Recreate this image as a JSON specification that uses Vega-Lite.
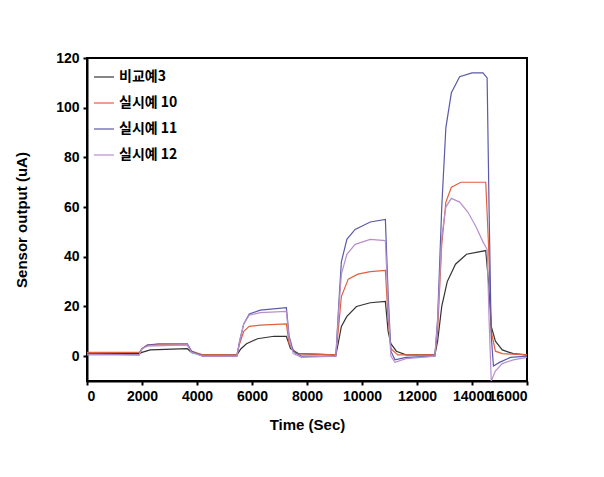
{
  "$schema": "https://vega.github.io/schema/vega-lite/v6.json",
  "width": 440,
  "height": 323,
  "autosize": "none",
  "padding": {"left": 87, "top": 58, "right": 77, "bottom": 96},
  "background": "white",
  "data": {
    "values": [
      {"s": "비교예3", "t": 0, "v": 1},
      {"s": "비교예3", "t": 1900, "v": 1},
      {"s": "비교예3", "t": 2000, "v": 1.5},
      {"s": "비교예3", "t": 2300, "v": 2.5},
      {"s": "비교예3", "t": 3650, "v": 3},
      {"s": "비교예3", "t": 3800, "v": 1.5},
      {"s": "비교예3", "t": 4200, "v": 0.5},
      {"s": "비교예3", "t": 5450, "v": 0.5},
      {"s": "비교예3", "t": 5600, "v": 3},
      {"s": "비교예3", "t": 5800, "v": 5},
      {"s": "비교예3", "t": 6200, "v": 7},
      {"s": "비교예3", "t": 6800, "v": 8},
      {"s": "비교예3", "t": 7250, "v": 8},
      {"s": "비교예3", "t": 7400, "v": 3},
      {"s": "비교예3", "t": 7700, "v": 1},
      {"s": "비교예3", "t": 9050, "v": 0.5},
      {"s": "비교예3", "t": 9150, "v": 6},
      {"s": "비교예3", "t": 9250, "v": 12},
      {"s": "비교예3", "t": 9450, "v": 16},
      {"s": "비교예3", "t": 9800, "v": 20},
      {"s": "비교예3", "t": 10300, "v": 21.5},
      {"s": "비교예3", "t": 10850, "v": 22},
      {"s": "비교예3", "t": 10950, "v": 10},
      {"s": "비교예3", "t": 11050, "v": 5},
      {"s": "비교예3", "t": 11250, "v": 2},
      {"s": "비교예3", "t": 11600, "v": 0.5},
      {"s": "비교예3", "t": 12650, "v": 0.5},
      {"s": "비교예3", "t": 12750, "v": 6},
      {"s": "비교예3", "t": 12900, "v": 20},
      {"s": "비교예3", "t": 13100, "v": 30},
      {"s": "비교예3", "t": 13400, "v": 37},
      {"s": "비교예3", "t": 13800, "v": 41},
      {"s": "비교예3", "t": 14500, "v": 42.5},
      {"s": "비교예3", "t": 14600, "v": 30},
      {"s": "비교예3", "t": 14700, "v": 12},
      {"s": "비교예3", "t": 14850, "v": 6},
      {"s": "비교예3", "t": 15100, "v": 2.5},
      {"s": "비교예3", "t": 15500, "v": 1},
      {"s": "비교예3", "t": 16000, "v": 0.5},

      {"s": "실시예 10", "t": 0, "v": 1.5},
      {"s": "실시예 10", "t": 1900, "v": 1.5},
      {"s": "실시예 10", "t": 2000, "v": 3},
      {"s": "실시예 10", "t": 2200, "v": 4.5},
      {"s": "실시예 10", "t": 3650, "v": 4.5},
      {"s": "실시예 10", "t": 3800, "v": 2},
      {"s": "실시예 10", "t": 4200, "v": 0.5},
      {"s": "실시예 10", "t": 5450, "v": 0.5},
      {"s": "실시예 10", "t": 5550, "v": 5},
      {"s": "실시예 10", "t": 5700, "v": 10},
      {"s": "실시예 10", "t": 5900, "v": 12},
      {"s": "실시예 10", "t": 6300, "v": 12.5},
      {"s": "실시예 10", "t": 7250, "v": 13},
      {"s": "실시예 10", "t": 7350, "v": 5},
      {"s": "실시예 10", "t": 7600, "v": 1},
      {"s": "실시예 10", "t": 9050, "v": 0.5},
      {"s": "실시예 10", "t": 9150, "v": 12},
      {"s": "실시예 10", "t": 9250, "v": 24},
      {"s": "실시예 10", "t": 9500, "v": 31},
      {"s": "실시예 10", "t": 9850, "v": 33},
      {"s": "실시예 10", "t": 10300, "v": 34},
      {"s": "실시예 10", "t": 10850, "v": 34.5},
      {"s": "실시예 10", "t": 10950, "v": 15},
      {"s": "실시예 10", "t": 11050, "v": 3},
      {"s": "실시예 10", "t": 11300, "v": 0.5},
      {"s": "실시예 10", "t": 12650, "v": 0.5},
      {"s": "실시예 10", "t": 12750, "v": 10},
      {"s": "실시예 10", "t": 12900, "v": 45},
      {"s": "실시예 10", "t": 13050, "v": 62},
      {"s": "실시예 10", "t": 13250, "v": 68},
      {"s": "실시예 10", "t": 13600, "v": 70},
      {"s": "실시예 10", "t": 14500, "v": 70},
      {"s": "실시예 10", "t": 14600, "v": 45},
      {"s": "실시예 10", "t": 14700, "v": 10},
      {"s": "실시예 10", "t": 14850, "v": 2},
      {"s": "실시예 10", "t": 15100, "v": 1},
      {"s": "실시예 10", "t": 16000, "v": 0.5},

      {"s": "실시예 11", "t": 0, "v": 1},
      {"s": "실시예 11", "t": 1900, "v": 0.5},
      {"s": "실시예 11", "t": 2000, "v": 3},
      {"s": "실시예 11", "t": 2200, "v": 4.5},
      {"s": "실시예 11", "t": 2600, "v": 5},
      {"s": "실시예 11", "t": 3650, "v": 5},
      {"s": "실시예 11", "t": 3800, "v": 2},
      {"s": "실시예 11", "t": 4200, "v": 0},
      {"s": "실시예 11", "t": 5450, "v": 0},
      {"s": "실시예 11", "t": 5550, "v": 6},
      {"s": "실시예 11", "t": 5700, "v": 13},
      {"s": "실시예 11", "t": 5900, "v": 17},
      {"s": "실시예 11", "t": 6300, "v": 18.5},
      {"s": "실시예 11", "t": 7250, "v": 19.5},
      {"s": "실시예 11", "t": 7350, "v": 8},
      {"s": "실시예 11", "t": 7500, "v": 2},
      {"s": "실시예 11", "t": 7800, "v": 0},
      {"s": "실시예 11", "t": 9050, "v": 0},
      {"s": "실시예 11", "t": 9150, "v": 20},
      {"s": "실시예 11", "t": 9250, "v": 38},
      {"s": "실시예 11", "t": 9450, "v": 47},
      {"s": "실시예 11", "t": 9750, "v": 51},
      {"s": "실시예 11", "t": 10300, "v": 54},
      {"s": "실시예 11", "t": 10850, "v": 55},
      {"s": "실시예 11", "t": 10950, "v": 25},
      {"s": "실시예 11", "t": 11050, "v": 2},
      {"s": "실시예 11", "t": 11200, "v": -1.5},
      {"s": "실시예 11", "t": 11600, "v": -0.5},
      {"s": "실시예 11", "t": 12650, "v": 0},
      {"s": "실시예 11", "t": 12750, "v": 15},
      {"s": "실시예 11", "t": 12900, "v": 60},
      {"s": "실시예 11", "t": 13050, "v": 92},
      {"s": "실시예 11", "t": 13250, "v": 106},
      {"s": "실시예 11", "t": 13550, "v": 112.5},
      {"s": "실시예 11", "t": 14000, "v": 114},
      {"s": "실시예 11", "t": 14400, "v": 114},
      {"s": "실시예 11", "t": 14550, "v": 112},
      {"s": "실시예 11", "t": 14620, "v": 60},
      {"s": "실시예 11", "t": 14700, "v": 8},
      {"s": "실시예 11", "t": 14780, "v": -4},
      {"s": "실시예 11", "t": 15000, "v": -2.5},
      {"s": "실시예 11", "t": 15400, "v": -0.5},
      {"s": "실시예 11", "t": 16000, "v": 0},

      {"s": "실시예 12", "t": 0, "v": 0.5},
      {"s": "실시예 12", "t": 1900, "v": 0.5},
      {"s": "실시예 12", "t": 2000, "v": 3},
      {"s": "실시예 12", "t": 2200, "v": 4},
      {"s": "실시예 12", "t": 3650, "v": 4.5},
      {"s": "실시예 12", "t": 3800, "v": 1.5},
      {"s": "실시예 12", "t": 4200, "v": 0},
      {"s": "실시예 12", "t": 5450, "v": 0},
      {"s": "실시예 12", "t": 5550, "v": 6},
      {"s": "실시예 12", "t": 5700, "v": 13},
      {"s": "실시예 12", "t": 5900, "v": 16.5},
      {"s": "실시예 12", "t": 6300, "v": 17.5},
      {"s": "실시예 12", "t": 7250, "v": 18},
      {"s": "실시예 12", "t": 7350, "v": 7},
      {"s": "실시예 12", "t": 7500, "v": 1},
      {"s": "실시예 12", "t": 7800, "v": -0.5},
      {"s": "실시예 12", "t": 9050, "v": 0},
      {"s": "실시예 12", "t": 9150, "v": 18},
      {"s": "실시예 12", "t": 9250, "v": 33},
      {"s": "실시예 12", "t": 9450, "v": 41},
      {"s": "실시예 12", "t": 9750, "v": 45},
      {"s": "실시예 12", "t": 10300, "v": 47},
      {"s": "실시예 12", "t": 10850, "v": 46.5},
      {"s": "실시예 12", "t": 10950, "v": 20},
      {"s": "실시예 12", "t": 11050, "v": 0},
      {"s": "실시예 12", "t": 11200, "v": -2.5},
      {"s": "실시예 12", "t": 11600, "v": -1},
      {"s": "실시예 12", "t": 12650, "v": 0},
      {"s": "실시예 12", "t": 12750, "v": 14},
      {"s": "실시예 12", "t": 12900, "v": 48},
      {"s": "실시예 12", "t": 13050, "v": 60},
      {"s": "실시예 12", "t": 13250, "v": 63.5},
      {"s": "실시예 12", "t": 13550, "v": 62},
      {"s": "실시예 12", "t": 13850, "v": 58},
      {"s": "실시예 12", "t": 14150, "v": 52},
      {"s": "실시예 12", "t": 14400, "v": 46},
      {"s": "실시예 12", "t": 14550, "v": 43},
      {"s": "실시예 12", "t": 14620, "v": 15},
      {"s": "실시예 12", "t": 14700, "v": -10},
      {"s": "실시예 12", "t": 14850, "v": -6},
      {"s": "실시예 12", "t": 15100, "v": -3},
      {"s": "실시예 12", "t": 15500, "v": -1.5},
      {"s": "실시예 12", "t": 16000, "v": -0.5}
    ]
  },
  "mark": {"type": "line", "strokeWidth": 1.2, "clip": true},
  "encoding": {
    "x": {
      "field": "t",
      "type": "quantitative",
      "scale": {"domain": [0, 16000], "nice": false},
      "axis": {
        "title": "Time (Sec)",
        "values": [0, 2000, 4000, 6000, 8000, 10000, 12000, 14000, 16000],
        "format": "d",
        "grid": false
      }
    },
    "y": {
      "field": "v",
      "type": "quantitative",
      "scale": {"domain": [-10, 120], "nice": false, "zero": false},
      "axis": {
        "title": "Sensor output (uA)",
        "values": [0, 20, 40, 60, 80, 100, 120],
        "grid": false
      }
    },
    "color": {
      "field": "s",
      "type": "nominal",
      "scale": {
        "domain": ["비교예3", "실시예 10", "실시예 11", "실시예 12"],
        "range": ["#333333", "#e0603f", "#5a5aa8", "#b88fcc"]
      },
      "legend": {
        "title": null,
        "orient": "none",
        "legendX": 6,
        "legendY": 8,
        "symbolType": "stroke",
        "symbolSize": 400,
        "symbolStrokeWidth": 1.2,
        "labelFont": "Noto Sans CJK KR",
        "labelFontWeight": "bold",
        "labelFontSize": 14,
        "labelColor": "#000000",
        "rowPadding": 8
      }
    }
  },
  "config": {
    "view": {"stroke": "#000000", "strokeWidth": 2},
    "axis": {
      "domainColor": "#000000",
      "domainWidth": 2,
      "tickColor": "#000000",
      "tickWidth": 2,
      "tickSize": 4,
      "labelFont": "Liberation Sans",
      "labelFontWeight": "bold",
      "labelFontSize": 14,
      "labelColor": "#000000",
      "titleFont": "Liberation Sans",
      "titleFontWeight": "bold",
      "titleFontSize": 15,
      "titleColor": "#000000"
    },
    "axisX": {"labelPadding": 4, "titlePadding": 14, "labelOverlap": false},
    "axisY": {"labelPadding": 4, "titlePadding": 26}
  }
}
